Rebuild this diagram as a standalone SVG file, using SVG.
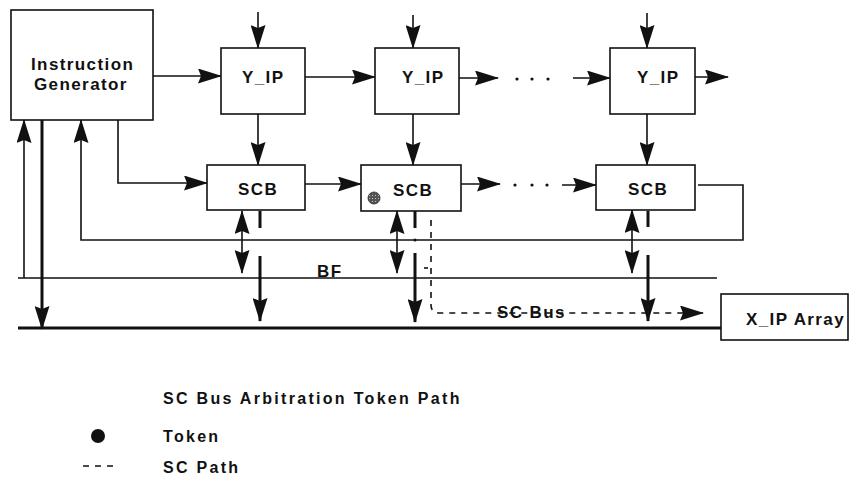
<svg xmlns="http://www.w3.org/2000/svg" width="853" height="486" viewBox="0 0 853 486">
<style>
.box{fill:#fff;stroke:#111;stroke-width:1.6}
.ln{fill:none;stroke:#111;stroke-width:1.6}
.thk{fill:none;stroke:#111;stroke-width:3}
.dsh{fill:none;stroke:#111;stroke-width:1.6;stroke-dasharray:6 6}
.lbl{font-family:"Liberation Sans",Arial,sans-serif;font-size:17px;font-weight:bold;letter-spacing:1.4px;fill:#111}
.leg{font-family:"Liberation Sans",Arial,sans-serif;font-size:16px;font-weight:bold;letter-spacing:2.3px;fill:#111}
</style>
<defs>
<marker id="ah" markerUnits="userSpaceOnUse" markerWidth="24" markerHeight="15" viewBox="0 0 24 15" refX="23" refY="7.5" orient="auto-start-reverse">
<path d="M0,0 L24,7.5 L0,15 L3,7.5 z" fill="#111"/>
</marker>
<pattern id="stip" width="3" height="3" patternUnits="userSpaceOnUse">
<rect width="3" height="3" fill="#555"/>
<rect width="1" height="1" fill="#bbb"/>
</pattern>
</defs>

<g id="connectors">
<line class="ln" x1="258" y1="12" x2="258" y2="48" marker-end="url(#ah)"/>
<line class="ln" x1="413" y1="15" x2="413" y2="48" marker-end="url(#ah)"/>
<line class="ln" x1="647" y1="13" x2="647" y2="48" marker-end="url(#ah)"/>
<line class="ln" x1="153" y1="76" x2="221" y2="76" marker-end="url(#ah)"/>
<line class="ln" x1="305" y1="77" x2="375" y2="77" marker-end="url(#ah)"/>
<line class="ln" x1="459" y1="78" x2="498" y2="78" marker-end="url(#ah)"/>
<line class="ln" x1="573" y1="78" x2="610" y2="78" marker-end="url(#ah)"/>
<line class="ln" x1="695" y1="77" x2="728" y2="77" marker-end="url(#ah)"/>
<circle cx="517" cy="79" r="1.6" fill="#111"/>
<circle cx="532" cy="79" r="1.6" fill="#111"/>
<circle cx="548" cy="79" r="1.6" fill="#111"/>
<line class="ln" x1="258" y1="114" x2="258" y2="165" marker-end="url(#ah)"/>
<line class="ln" x1="413" y1="114" x2="413" y2="165" marker-end="url(#ah)"/>
<line class="ln" x1="647" y1="114" x2="647" y2="165" marker-end="url(#ah)"/>
<path class="ln" d="M118,120 V183 H207" marker-end="url(#ah)"/>
<line class="ln" x1="305" y1="184" x2="361" y2="184" marker-end="url(#ah)"/>
<line class="ln" x1="461" y1="184" x2="500" y2="184" marker-end="url(#ah)"/>
<line class="ln" x1="562" y1="185" x2="596" y2="185" marker-end="url(#ah)"/>
<circle cx="515" cy="185" r="1.6" fill="#111"/>
<circle cx="532" cy="185" r="1.6" fill="#111"/>
<circle cx="547" cy="185" r="1.6" fill="#111"/>
<path class="ln" d="M698,185 H743 V240 H81 V120" marker-end="url(#ah)"/>
<line class="ln" x1="18" y1="278" x2="717" y2="278"/>
<line class="ln" x1="24" y1="278" x2="24" y2="120" marker-end="url(#ah)"/>
<line class="thk" x1="42" y1="120" x2="42" y2="329" marker-end="url(#ah)"/>
<line class="thk" x1="18" y1="328" x2="721" y2="328"/>
<line class="ln" x1="242" y1="211" x2="242" y2="273" marker-start="url(#ah)" marker-end="url(#ah)"/>
<line class="thk" x1="260" y1="211" x2="260" y2="228"/>
<line class="thk" x1="260" y1="256" x2="260" y2="321" marker-end="url(#ah)"/>
<line class="ln" x1="397" y1="211" x2="397" y2="273" marker-start="url(#ah)" marker-end="url(#ah)"/>
<line class="thk" x1="415" y1="211" x2="415" y2="228"/>
<circle cx="415" cy="240" r="1.5" fill="#111"/>
<line class="thk" x1="415" y1="253" x2="415" y2="322" marker-end="url(#ah)"/>
<line class="ln" x1="632" y1="210" x2="632" y2="273" marker-start="url(#ah)" marker-end="url(#ah)"/>
<line class="thk" x1="648" y1="211" x2="648" y2="227"/>
<line class="thk" x1="648" y1="255" x2="648" y2="321" marker-end="url(#ah)"/>
<path class="dsh" d="M431,220 V305 Q431,313 440,313 H703" marker-end="url(#ah)"/>
<line class="ln" x1="424" y1="268" x2="428" y2="268"/>
</g>

<g id="instruction-generator">
<rect class="box" x="11" y="10" width="142" height="110"/>
<text class="lbl" x="31" y="70">Instruction</text>
<text class="lbl" x="34" y="90">Generator</text>
</g>

<g id="yip1">
<rect class="box" x="221" y="48" width="84" height="66"/>
<text class="lbl" x="242" y="83" letter-spacing="2.5">Y_IP</text>
</g>
<g id="yip2">
<rect class="box" x="375" y="48" width="84" height="66"/>
<text class="lbl" x="402" y="83" letter-spacing="2.5">Y_IP</text>
</g>
<g id="yip3">
<rect class="box" x="610" y="48" width="85" height="66"/>
<text class="lbl" x="637" y="83" letter-spacing="2.5">Y_IP</text>
</g>

<g id="scb1">
<rect class="box" x="207" y="165" width="98" height="45"/>
<text class="lbl" x="238" y="195">SCB</text>
</g>
<g id="scb2">
<rect class="box" x="361" y="165" width="100" height="46"/>
<text class="lbl" x="393" y="196">SCB</text>
<circle cx="374" cy="198" r="6" fill="url(#stip)" stroke="#222" stroke-width="0.8"/>
</g>
<g id="scb3">
<rect class="box" x="596" y="165" width="99" height="45"/>
<text class="lbl" x="628" y="195">SCB</text>
</g>

<g id="xip-array">
<rect class="box" x="721" y="294" width="127" height="46"/>
<text class="lbl" x="746" y="325" letter-spacing="1">X_IP Array</text>
</g>

<g id="bus-labels">
<text class="lbl" x="317" y="277" font-size="15">BF</text>
<text class="lbl" x="497" y="318" font-size="16">SC Bus</text>
</g>

<g id="legend">
<text class="leg" x="163" y="404">SC Bus Arbitration Token Path</text>
<circle cx="98" cy="436" r="7" fill="#111"/>
<text class="leg" x="163" y="442">Token</text>
<line class="dsh" x1="83" y1="466" x2="118" y2="466" stroke-dasharray="5 8"/>
<text class="leg" x="163" y="473">SC Path</text>
</g>
</svg>
